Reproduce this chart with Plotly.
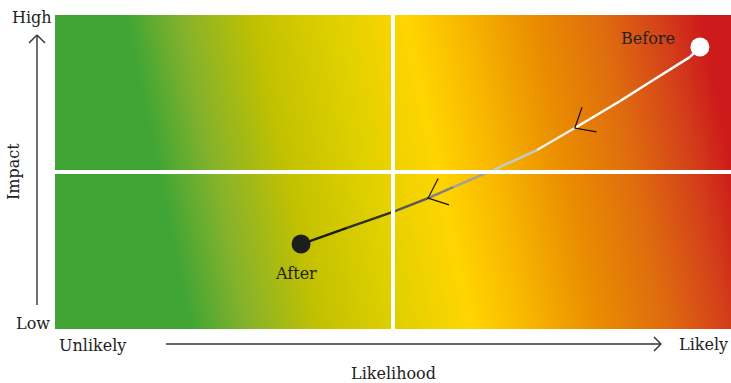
import numpy as np
import plotly.graph_objects as go

# risk path: likelihood (x) and impact (y), both 0..1
path_likelihood = [0.954, 0.939, 0.885, 0.836, 0.769, 0.713, 0.648, 0.589, 0.552, 0.500, 0.432, 0.377, 0.364]
path_impact = [0.898, 0.866, 0.793, 0.726, 0.640, 0.570, 0.506, 0.452, 0.417, 0.373, 0.322, 0.280, 0.271]
arrow_at = [4, 8]  # path points carrying a direction chevron

before = {"label": "Before", "x": 0.954, "y": 0.898}
after = {"label": "After", "x": 0.364, "y": 0.271}

x_labels = ["Unlikely", "Likely"]
y_labels = ["Low", "High"]
x_title = "Likelihood"
y_title = "Impact"

# styling
W, H = 731, 383
L, R, T, B = 55, 0, 15, 54
PW, PH = W - L - R, H - T - B
TXT = "#222222"
FONT = "DejaVu Serif"

seg_colors = ["#ffffff", "#ffffff", "#ffffff", "#ffffff", "#f0f0f0", "#c8c8c8",
              "#a0a0a0", "#808080", "#585858", "#303030", "#1a1a1a", "#1a1a1a"]

# background gradient stops, by horizontal pixel position along the top edge
grad_stops = [(-20, "#40a535"), (125, "#40a535"), (180, "#84b22c"), (254, "#c2c100"),
              (330, "#dfd000"), (405, "#ffd500"), (460, "#f8b800"), (530, "#ea8e00"),
              (600, "#df6c0e"), (660, "#d4401a"), (700, "#cd1a1a"), (745, "#cd1a1a")]
tilt = 0.21  # gradient leans right as it goes down

gx = np.linspace(0, 1, 240)
gy = np.linspace(0, 1, 60)
GX, GY = np.meshgrid(gx, gy)
U = L + GX * PW - tilt * (1 - GY) * PH
zmin, zmax = grad_stops[0][0], grad_stops[-1][0]
cscale = [[(u - zmin) / (zmax - zmin), c] for u, c in grad_stops]

fig = go.Figure()
fig.add_trace(go.Heatmap(x=gx, y=gy, z=U, zmin=zmin, zmax=zmax, colorscale=cscale,
                         showscale=False, zsmooth="best", hoverinfo="skip"))

# path, fading from white to black
for i in range(len(path_likelihood) - 1):
    fig.add_trace(go.Scatter(
        x=path_likelihood[i:i + 2], y=path_impact[i:i + 2], mode="lines",
        line=dict(color=seg_colors[i], width=2.5), hoverinfo="skip", showlegend=False))


def to_px(x, y):
    return np.array([x * PW, y * PH])


# open chevrons pointing towards "After"
for i in arrow_at:
    tip = to_px(path_likelihood[i], path_impact[i])
    d = to_px(path_likelihood[i - 1], path_impact[i - 1]) - to_px(path_likelihood[i + 1], path_impact[i + 1])
    d = d / np.linalg.norm(d)
    xs, ys = [], []
    for ang in (np.radians(40.5), None, np.radians(-40.5)):
        if ang is None:
            p = tip
        else:
            rot = np.array([[np.cos(ang), -np.sin(ang)], [np.sin(ang), np.cos(ang)]])
            p = tip + 22 * rot @ d
        xs.append(p[0] / PW)
        ys.append(p[1] / PH)
    fig.add_trace(go.Scatter(x=xs, y=ys, mode="lines", line=dict(color="#111111", width=1.2),
                             hoverinfo="skip", showlegend=False))

fig.add_trace(go.Scatter(x=[before["x"]], y=[before["y"]], mode="markers",
                         marker=dict(size=19, color="#ffffff"), hoverinfo="skip", showlegend=False))
fig.add_trace(go.Scatter(x=[after["x"]], y=[after["y"]], mode="markers",
                         marker=dict(size=19, color="#1d1d1b"), hoverinfo="skip", showlegend=False))

# quadrant dividers
fig.add_shape(type="line", x0=0.5, x1=0.5, y0=0, y1=1, line=dict(color="white", width=4))
fig.add_shape(type="line", x0=0, x1=1, y0=0.5, y1=0.5, line=dict(color="white", width=4))


def pp(px, py):
    # screen pixels -> paper coords
    return (px - L) / PW, (H - B - py) / PH


def paper_line(p0, p1):
    (x0, y0), (x1, y1) = pp(*p0), pp(*p1)
    fig.add_shape(type="line", xref="paper", yref="paper", x0=x0, y0=y0, x1=x1, y1=y1,
                  line=dict(color="#333333", width=1.4))


# axis arrows outside the plot
paper_line((37, 305), (37, 35))
paper_line((37, 35), (29, 43))
paper_line((37, 35), (45, 43))
paper_line((166, 344), (661, 344))
paper_line((661, 344), (654, 337))
paper_line((661, 344), (654, 351))

f = dict(family=FONT, size=16, color=TXT)
notes = [
    (y_labels[1], 32, 17, "center", 0),
    (y_labels[0], 33, 323, "center", 0),
    (x_labels[0], 92, 345, "center", 0),
    (x_labels[1], 730, 344, "right", 0),
    (x_title, 393, 373, "center", 0),
    (y_title, 13, 172, "center", -90),
]
for text, px, py, xa, ang in notes:
    x, y = pp(px, py)
    fig.add_annotation(text=text, x=x, y=y, xref="paper", yref="paper", xanchor=xa,
                       yanchor="middle", showarrow=False, font=f, textangle=ang)

fig.add_annotation(text=before["label"], x=before["x"] - 0.034, y=before["y"] + 0.026,
                   xanchor="right", yanchor="middle", showarrow=False, font=f)
fig.add_annotation(text=after["label"], x=after["x"] - 0.007, y=after["y"] - 0.093,
                   xanchor="center", yanchor="middle", showarrow=False, font=f)

fig.update_xaxes(range=[0, 1], visible=False, fixedrange=True)
fig.update_yaxes(range=[0, 1], visible=False, fixedrange=True)
fig.update_layout(width=W, height=H, margin=dict(l=L, r=R, t=T, b=B),
                  paper_bgcolor="white", plot_bgcolor="white", showlegend=False)

# drop the page's default body margin so the figure sits flush in the window
fix_page = (
    "document.body.style.margin='0';document.body.style.overflow='hidden';"
    "var gd=document.getElementById('{plot_id}');"
    "Plotly.relayout(gd,{width:%d,height:%d});" % (W, H)
)
fig.write_html("out.html", post_script=fix_page,
               config={"responsive": False, "displayModeBar": False})
